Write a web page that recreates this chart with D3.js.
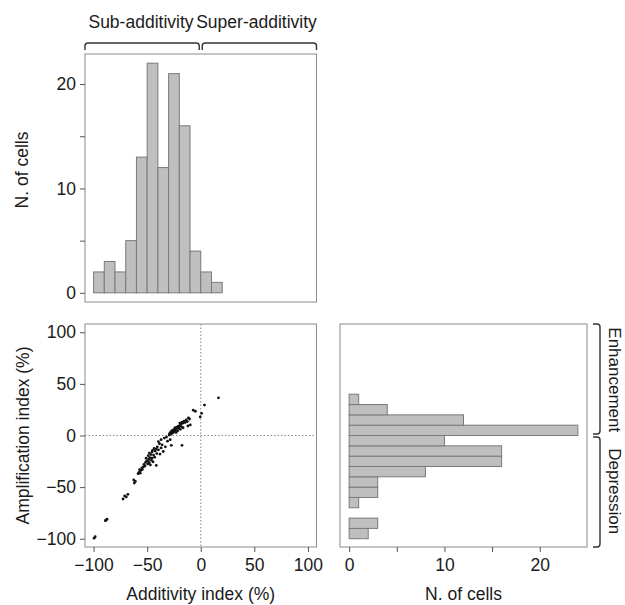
<!DOCTYPE html>
<html>
<head>
<meta charset="utf-8">
<script src="https://cdn.jsdelivr.net/npm/d3@7"></script>
<style>
  html, body { margin: 0; padding: 0; background: #fff; }
  svg { display: block; }
  text { font-family: "Liberation Sans", Arial, sans-serif; fill: #1a1a1a; }
</style>
</head>
<body>
<svg id="chart" width="625" height="605"></svg>
<script>
// ---------------- data ----------------
const topBinEdges = [-100, -90, -80, -70, -60, -50, -40, -30, -20, -10, 0, 10, 20];
const topCounts = [2, 3, 2, 5, 13, 22, 12, 21, 16, 4, 2, 1];

const rightBinEdges = [-100, -90, -80, -70, -60, -50, -40, -30, -20, -10, 0, 10, 20, 30, 40];
const rightCounts = [2, 3, 0, 1, 3, 3, 8, 16, 16, 10, 24, 12, 4, 1];

const additivity = [
  -99.5, -98.5,
  -89, -88.5, -87.5,
  -72.5, -71,
  -69.5, -68, -62.5, -62, -61,
  -58.5, -57.5, -57, -56.5, -56, -55, -54.5, -53.5, -53, -52, -51.5, -50.5, -51,
  -49.5, -49, -48.5, -48, -47.5, -47, -46, -45.5, -44.5, -43, -41.5,
  -49, -48, -46.5, -45.5, -45, -44, -43.5, -42.5, -41.5, -41, -40.5,
  -39.5, -38, -37, -35, -33, -39.5, -38.5, -37, -36, -34, -32, -31,
  -27.5, -28.5, -29.5, -29, -28.5, -28, -27.5, -27, -26.5, -26, -25.5, -25, -24.5, -24, -23.5, -23, -22.5, -22, -21.5, -21, -20.5,
  -17.5, -19.5, -19, -18, -16.5, -12, -19.5, -18.5, -17.5, -16.5, -15.5, -14.5, -13.5, -12.5, -11.5, -10.5,
  -9.8, -0.5, -7, -5,
  3.5, 0.8,
  16.5
];
const amplification = [
  -99.5, -98,
  -82.5, -82, -81,
  -61.5, -58.5,
  -59.5, -57, -43, -46, -44.5,
  -37, -35.5, -33, -36.5, -34, -31.5, -33, -30.5, -28, -29.5, -26, -24.5, -22,
  -27.5, -25, -23, -26.5, -21.5, -28.5, -24, -22, -25.5, -21, -29,
  -19.5, -17, -18.5, -16, -14.5, -19, -12.5, -15, -13, -17.5, -11,
  -14, -18, -12, -15.5, -11, -6, -8, -4, -9, -2.5, -1.5, -5.5,
  -9.5, -4, 0.5, 2, 1, 3.5, 1.5, 4.5, 2.5, 5, 3, 6, 4, 7.5, 5.5, 3, 6.5, 8, 4.5, 9, 7,
  -9.5, 9.5, 6, 8.5, 7.5, 9.2, 12, 11, 13, 12, 14, 12.5, 15, 13.5, 17, 16,
  10.2, 18, 24.5, 23.5,
  29.5, 21.5,
  36.5
];

const indexTicks = [-100, -50, 0, 50, 100];
const countTicks = [0, 5, 10, 15, 20];
const countTickLabels = [0, 10, 20];

const topLabels = ["Sub-additivity", "Super-additivity"];
const sideLabels = ["Enhancement", "Depression"];
const xTitle = "Additivity index (%)";
const yTitle = "Amplification index (%)";
const countTitle = "N. of cells";

// ---------------- layout ----------------
const svg = d3.select("#chart");
const FS = 17.5;
const boxColor = "#8c8c8c";
const tickColor = "#555";
const barFill = "#bfbfbf";
const barStroke = "#7a7a7a";

const L = 85, R1 = 316.5;            // left column
const R2L = 340, R2R = 587;          // right column
const T1 = 54, B1 = 302;             // top row
const T2 = 324, B2 = 547;            // bottom row

const xIdx = d3.scaleLinear().domain([-108, 108]).range([L, R1]);
const yIdx = d3.scaleLinear().domain([-108, 108]).range([B2, T2]);
const yCnt = d3.scaleLinear().domain([-0.88, 22.88]).range([B1, T1]);
const xCnt = d3.scaleLinear().domain([-0.96, 24.96]).range([R2L, R2R]);

function styleAxis(g) {
  g.select(".domain").remove();
  g.selectAll(".tick line").attr("stroke", tickColor);
  g.selectAll(".tick text").attr("font-size", FS).attr("fill", "#1a1a1a")
    .attr("font-family", "'Liberation Sans', Arial, sans-serif");
}

// ---------------- top histogram ----------------
const topBins = topCounts.map((c, i) => ({ x0: topBinEdges[i], x1: topBinEdges[i + 1], n: c }));
svg.append("g").selectAll("rect").data(topBins).join("rect")
  .attr("x", d => xIdx(d.x0))
  .attr("width", d => xIdx(d.x1) - xIdx(d.x0))
  .attr("y", d => yCnt(d.n))
  .attr("height", d => yCnt(0) - yCnt(d.n))
  .attr("fill", barFill).attr("stroke", barStroke).attr("stroke-width", 1);

svg.append("rect").attr("x", L).attr("y", T1).attr("width", R1 - L).attr("height", B1 - T1)
  .attr("fill", "none").attr("stroke", boxColor);

svg.append("g").attr("transform", `translate(${L},0)`)
  .call(d3.axisLeft(yCnt).tickValues(countTicks).tickSize(5).tickPadding(4)
    .tickFormat(d => countTickLabels.includes(d) ? d : ""))
  .call(styleAxis);

svg.append("text").attr("transform", `translate(28,${(T1 + B1) / 2 - 8}) rotate(-90)`)
  .attr("text-anchor", "middle").attr("font-size", FS).text(countTitle);

// brackets on top
const by0 = 43, by1 = 50, br = 3;
function hBracket(x0, x1) {
  return `M${x0},${by1} L${x0},${by0 + br} Q${x0},${by0} ${x0 + br},${by0} L${x1 - br},${by0} Q${x1},${by0} ${x1},${by0 + br} L${x1},${by1}`;
}
svg.append("path").attr("d", hBracket(L, xIdx(0) - 1.5)).attr("fill", "none").attr("stroke", "#333").attr("stroke-width", 1.4);
svg.append("path").attr("d", hBracket(xIdx(0) + 1.5, R1)).attr("fill", "none").attr("stroke", "#333").attr("stroke-width", 1.4);
svg.append("text").attr("x", 141).attr("y", 28).attr("text-anchor", "middle").attr("font-size", FS).text(topLabels[0]);
svg.append("text").attr("x", 256.5).attr("y", 28).attr("text-anchor", "middle").attr("font-size", FS).text(topLabels[1]);

// ---------------- scatter ----------------
svg.append("line").attr("x1", xIdx(0)).attr("x2", xIdx(0)).attr("y1", T2).attr("y2", B2)
  .attr("stroke", "#888").attr("stroke-dasharray", "1.5,2");
svg.append("line").attr("x1", L).attr("x2", R1).attr("y1", yIdx(0)).attr("y2", yIdx(0))
  .attr("stroke", "#888").attr("stroke-dasharray", "1.5,2");

const pts = additivity.map((x, i) => ({ x, y: amplification[i] }));
svg.append("g").selectAll("circle").data(pts).join("circle")
  .attr("cx", d => xIdx(d.x)).attr("cy", d => yIdx(d.y)).attr("r", 1.4).attr("fill", "#111");

svg.append("rect").attr("x", L).attr("y", T2).attr("width", R1 - L).attr("height", B2 - T2)
  .attr("fill", "none").attr("stroke", boxColor);

svg.append("g").attr("transform", `translate(${L},0)`)
  .call(d3.axisLeft(yIdx).tickValues(indexTicks).tickSize(5).tickPadding(4).tickFormat(d3.format("")))
  .call(styleAxis);
svg.append("g").attr("transform", `translate(0,${B2})`)
  .call(d3.axisBottom(xIdx).tickValues(indexTicks).tickSize(5).tickPadding(7).tickFormat(d3.format("")))
  .call(styleAxis);

svg.append("text").attr("x", (L + R1) / 2).attr("y", 600).attr("text-anchor", "middle").attr("font-size", FS).text(xTitle);
svg.append("text").attr("transform", `translate(29,${(T2 + B2) / 2}) rotate(-90)`)
  .attr("text-anchor", "middle").attr("font-size", FS).text(yTitle);

// ---------------- right histogram ----------------
const rightBins = rightCounts.map((c, i) => ({ y0: rightBinEdges[i], y1: rightBinEdges[i + 1], n: c }))
  .filter(d => d.n > 0);
svg.append("g").selectAll("rect").data(rightBins).join("rect")
  .attr("x", xCnt(0))
  .attr("width", d => xCnt(d.n) - xCnt(0))
  .attr("y", d => yIdx(d.y1))
  .attr("height", d => yIdx(d.y0) - yIdx(d.y1))
  .attr("fill", barFill).attr("stroke", barStroke).attr("stroke-width", 1);

svg.append("rect").attr("x", R2L).attr("y", T2).attr("width", R2R - R2L).attr("height", B2 - T2)
  .attr("fill", "none").attr("stroke", boxColor);

svg.append("g").attr("transform", `translate(0,${B2})`)
  .call(d3.axisBottom(xCnt).tickValues(countTicks).tickSize(5).tickPadding(7)
    .tickFormat(d => countTickLabels.includes(d) ? d : ""))
  .call(styleAxis);

svg.append("text").attr("x", (R2L + R2R) / 2).attr("y", 600).attr("text-anchor", "middle").attr("font-size", FS).text(countTitle);

// side brackets
const bx0 = 600, bx1 = 593;
function vBracket(y0, y1) {
  return `M${bx1},${y0} L${bx0 - br},${y0} Q${bx0},${y0} ${bx0},${y0 + br} L${bx0},${y1 - br} Q${bx0},${y1} ${bx0 - br},${y1} L${bx1},${y1}`;
}
svg.append("path").attr("d", vBracket(T2, yIdx(0) - 1.5)).attr("fill", "none").attr("stroke", "#333").attr("stroke-width", 1.4);
svg.append("path").attr("d", vBracket(yIdx(0) + 1.5, B2)).attr("fill", "none").attr("stroke", "#333").attr("stroke-width", 1.4);
svg.append("text").attr("transform", `translate(609,${(T2 + yIdx(0)) / 2}) rotate(90)`)
  .attr("text-anchor", "middle").attr("font-size", 17).text(sideLabels[0]);
svg.append("text").attr("transform", `translate(609,${(yIdx(0) + B2) / 2}) rotate(90)`)
  .attr("text-anchor", "middle").attr("font-size", 17).text(sideLabels[1]);
</script>
</body>
</html>
